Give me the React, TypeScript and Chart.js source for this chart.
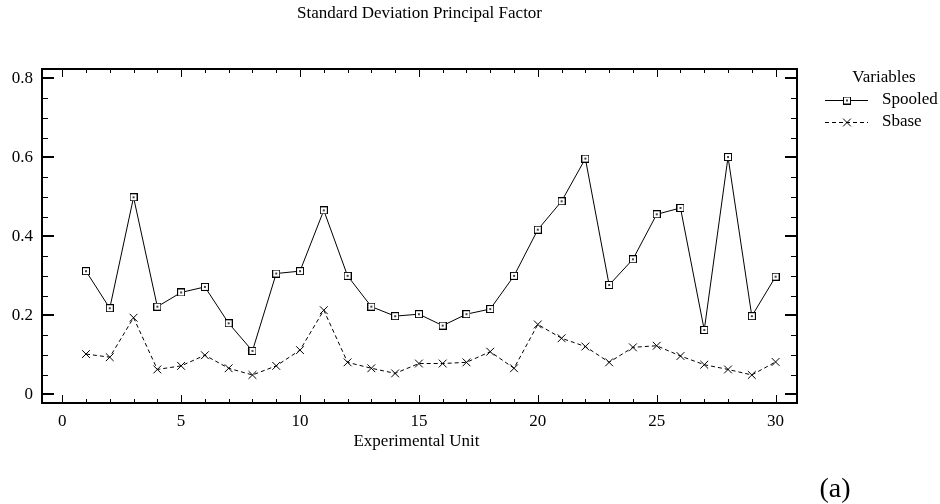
import React, { useEffect, useRef } from "react";
import { Chart, registerables } from "chart.js";

Chart.register(...registerables);

// Experimental units on the x axis
const units = [
  1, 2, 3, 4, 5, 6, 7, 8, 9, 10, 11, 12, 13, 14, 15, 16, 17, 18, 19, 20, 21,
  22, 23, 24, 25, 26, 27, 28, 29, 30,
];

// Pooled standard deviation per unit
const spooled = [
  0.312, 0.218, 0.499, 0.222, 0.258, 0.272, 0.18, 0.11, 0.306, 0.312, 0.466,
  0.3, 0.222, 0.198, 0.203, 0.174, 0.203, 0.216, 0.3, 0.417, 0.489, 0.597,
  0.277, 0.342, 0.456, 0.472, 0.163, 0.601, 0.198, 0.298,
];

// Base standard deviation per unit
const sbase = [
  0.102, 0.094, 0.194, 0.063, 0.072, 0.099, 0.066, 0.049, 0.072, 0.112, 0.213,
  0.081, 0.066, 0.053, 0.078, 0.078, 0.081, 0.108, 0.066, 0.177, 0.142, 0.121,
  0.081, 0.119, 0.123, 0.097, 0.075, 0.063, 0.049, 0.082,
];

const seriesNames = ["Spooled", "Sbase"];
const xTicks = [0, 5, 10, 15, 20, 25, 30];
const yTicks = [0, 0.2, 0.4, 0.6, 0.8];
const chartTitle = "Standard Deviation Principal Factor";
const xTitle = "Experimental Unit";
const legendTitle = "Variables";
const panelLabel = "(a)";

const SERIF = '"Liberation Serif", "Times New Roman", serif';

function makeSquareMarker(): HTMLCanvasElement {
  const c = document.createElement("canvas");
  c.width = 8;
  c.height = 8;
  const g = c.getContext("2d")!;
  g.fillStyle = "#fff";
  g.fillRect(0, 0, 8, 8);
  g.strokeStyle = "#000";
  g.lineWidth = 1;
  g.strokeRect(0.5, 0.5, 7, 7);
  g.fillStyle = "#444";
  g.fillRect(3, 3, 2, 2);
  return c;
}

function drawCross(ctx: CanvasRenderingContext2D, x: number, y: number, r: number) {
  const d = Math.cos(Math.PI / 4) * r;
  ctx.beginPath();
  ctx.moveTo(x - d, y - d);
  ctx.lineTo(x + d, y + d);
  ctx.moveTo(x + d, y - d);
  ctx.lineTo(x - d, y + d);
  ctx.stroke();
}

export default function App() {
  const canvasRef = useRef<HTMLCanvasElement | null>(null);

  useEffect(() => {
    const canvas = canvasRef.current;
    if (!canvas) return;
    const square = makeSquareMarker();

    // Frame with inward ticks on all four sides, plus titles and legend
    const decorations = {
      id: "decorations",
      afterDraw(chart: any) {
        const { ctx, chartArea } = chart;
        const { left, right, top, bottom } = chartArea;
        const xs = chart.scales.x;
        const ys = chart.scales.y;
        ctx.save();
        ctx.strokeStyle = "#000";
        ctx.setLineDash([]);

        // minor and major ticks
        ctx.lineWidth = 1;
        ctx.beginPath();
        for (let v = 0; v <= 30; v++) {
          const px = Math.round(xs.getPixelForValue(v)) + 0.5;
          const len = v % 5 === 0 ? 8 : 4;
          ctx.moveTo(px, bottom);
          ctx.lineTo(px, bottom - len);
          ctx.moveTo(px, top);
          ctx.lineTo(px, top + len);
        }
        for (let i = 0; i <= 16; i++) {
          const v = i * 0.05;
          const py = Math.round(ys.getPixelForValue(v)) + 0.5;
          const len = i % 4 === 0 ? 12 : 6;
          ctx.moveTo(left, py);
          ctx.lineTo(left + len, py);
          ctx.moveTo(right, py);
          ctx.lineTo(right - len, py);
        }
        ctx.stroke();
        // major y ticks drawn heavier
        ctx.lineWidth = 2;
        ctx.beginPath();
        for (const v of yTicks) {
          const py = Math.round(ys.getPixelForValue(v));
          ctx.moveTo(left, py);
          ctx.lineTo(left + 12, py);
          ctx.moveTo(right, py);
          ctx.lineTo(right - 12, py);
        }
        ctx.stroke();

        // frame
        ctx.lineWidth = 2;
        ctx.strokeRect(left, top, right - left, bottom - top);

        // texts
        ctx.fillStyle = "#000";
        ctx.textBaseline = "middle";
        ctx.textAlign = "center";
        ctx.font = `17px ${SERIF}`;
        ctx.fillText(chartTitle, (left + right) / 2, 14);
        ctx.fillText(xTitle, (left + right) / 2 - 3, 442);
        ctx.fillText(legendTitle, 884, 78);

        ctx.font = `28px ${SERIF}`;
        ctx.fillText(panelLabel, 835, 490);

        // legend entries
        ctx.font = `17px ${SERIF}`;
        ctx.textAlign = "left";
        const rows = [100, 122];
        rows.forEach((ry, i) => {
          ctx.lineWidth = 1;
          ctx.setLineDash(i === 0 ? [] : [4, 3]);
          ctx.beginPath();
          ctx.moveTo(825, ry + 0.5);
          ctx.lineTo(868, ry + 0.5);
          ctx.stroke();
          ctx.setLineDash([]);
          if (i === 0) {
            ctx.drawImage(square, 843, ry - 3.5);
          } else {
            drawCross(ctx, 847, ry + 0.5, 5.5);
          }
          ctx.fillText(seriesNames[i], 882, ry);
        });
        ctx.restore();
      },
    };

    const chart = new Chart(canvas, {
      type: "line",
      data: {
        datasets: [
          {
            label: seriesNames[0],
            data: units.map((u, i) => ({ x: u, y: spooled[i] })),
            borderColor: "#000",
            borderWidth: 1,
            pointStyle: square,
            pointRadius: 4,
            pointBorderColor: "#000",
            pointBackgroundColor: "#fff",
            tension: 0,
          },
          {
            label: seriesNames[1],
            data: units.map((u, i) => ({ x: u, y: sbase[i] })),
            borderColor: "#000",
            borderWidth: 1,
            borderDash: [4, 3],
            pointStyle: "crossRot",
            pointRadius: 5.5,
            pointBorderWidth: 1,
            pointBorderColor: "#000",
            tension: 0,
          },
        ],
      },
      options: {
        responsive: false,
        animation: false,
        events: [],
        layout: { padding: { top: 69, right: 143, left: 0, bottom: 0 } },
        plugins: {
          legend: { display: false },
          title: { display: false },
          tooltip: { enabled: false },
        },
        scales: {
          x: {
            type: "linear",
            min: -0.85,
            max: 30.9,
            grid: { display: false, drawTicks: false },
            border: { display: false },
            afterBuildTicks: (s: any) => {
              s.ticks = xTicks.map((v) => ({ value: v }));
            },
            afterFit: (s: any) => {
              s.height = 101;
            },
            ticks: {
              color: "#000",
              font: { family: SERIF, size: 17 },
              padding: 8,
              maxRotation: 0,
              autoSkip: false,
              callback: (v: any) => String(v),
            },
          },
          y: {
            type: "linear",
            min: -0.022,
            max: 0.824,
            grid: { display: false, drawTicks: false },
            border: { display: false },
            afterBuildTicks: (s: any) => {
              s.ticks = yTicks.map((v) => ({ value: v }));
            },
            afterFit: (s: any) => {
              s.width = 42;
            },
            ticks: {
              color: "#000",
              font: { family: SERIF, size: 17 },
              padding: 9,
              autoSkip: false,
              callback: (v: any) => (v === 0 ? "0" : Number(v).toFixed(1)),
            },
          },
        },
      },
      plugins: [decorations],
    });

    return () => chart.destroy();
  }, []);

  return (
    <div
      style={{
        position: "absolute",
        left: 0,
        top: 0,
        width: 940,
        height: 504,
        background: "#fff",
      }}
    >
      <canvas ref={canvasRef} width={940} height={504} />
    </div>
  );
}
